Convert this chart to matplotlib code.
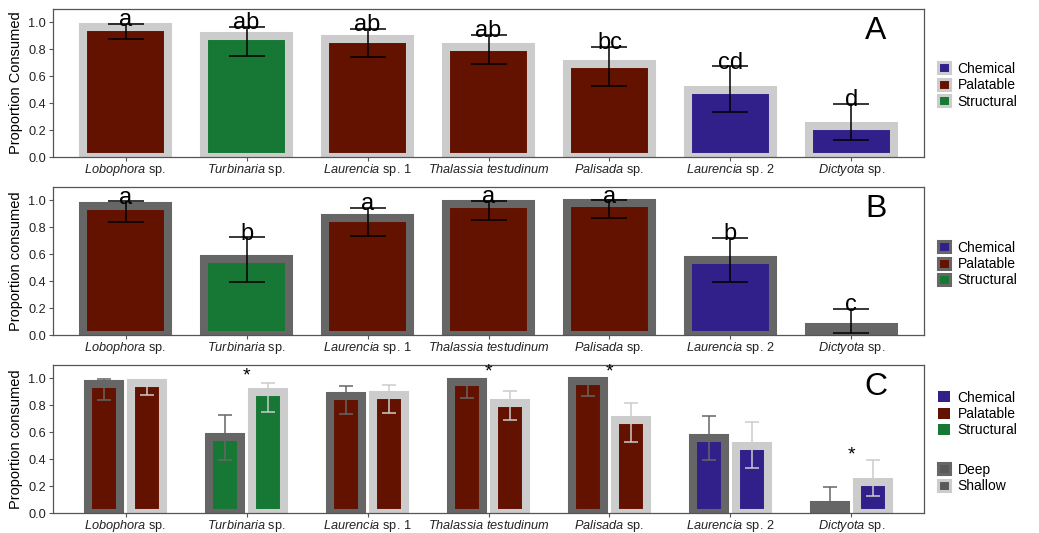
import matplotlib
matplotlib.use("Agg")
import matplotlib.pyplot as plt
from matplotlib.patches import Patch
import numpy as np

plt.rcParams['font.family'] = ['Liberation Sans', 'DejaVu Sans']
plt.rcParams['mathtext.fontset'] = 'custom'
plt.rcParams['mathtext.rm'] = 'Liberation Sans'
plt.rcParams['mathtext.it'] = 'Liberation Sans:italic'

species = [r'$\mathit{Lobophora}$ sp.', r'$\mathit{Turbinaria}$ sp.', r'$\mathit{Laurencia}$ sp. 1',
           r'$\mathit{Thalassia\ testudinum}$', r'$\mathit{Palisada}$ sp.', r'$\mathit{Laurencia}$ sp. 2',
           r'$\mathit{Dictyota}$ sp.']
traits = ['Palatable', 'Structural', 'Palatable', 'Palatable', 'Palatable', 'Chemical', 'Chemical']

shallow_mean = [0.965, 0.898, 0.880, 0.820, 0.690, 0.500, 0.232]
shallow_low = [0.876, 0.748, 0.740, 0.693, 0.527, 0.332, 0.126]
shallow_high = [0.990, 0.965, 0.950, 0.906, 0.820, 0.673, 0.396]
shallow_letters = ['a', 'ab', 'ab', 'ab', 'bc', 'cd', 'd']

deep_mean = [0.957, 0.565, 0.872, 0.975, 0.981, 0.560, 0.058]
deep_low = [0.841, 0.395, 0.735, 0.854, 0.869, 0.392, 0.015]
deep_high = [0.993, 0.725, 0.946, 0.998, 1.000, 0.720, 0.194]
deep_letters = ['a', 'b', 'a', 'a', 'a', 'b', 'c']

# significance marks between depths (None = not significant)
star_y = [None, 1.02, None, 1.045, 1.045, None, 0.43]

trait_colors = {'Chemical': '#31208a', 'Palatable': '#641200', 'Structural': '#167834'}
shallow_grey = '#cccccc'
deep_grey = '#666666'

W, H = 1039, 533
fig = plt.figure(figsize=(W / 100, H / 100), dpi=100)

x = np.arange(1, len(species) + 1)
bar_lw = 5.8


def style_axes(ax, ylabel):
    ax.set_xlim(0.4, 7.6)
    ax.set_ylim(0, 1.1)
    ax.set_yticks([0, 0.2, 0.4, 0.6, 0.8, 1.0])
    ax.set_yticklabels(['0.0', '0.2', '0.4', '0.6', '0.8', '1.0'])
    ax.set_xticks(x)
    ax.set_xticklabels(species)
    ax.tick_params(axis='both', length=3, width=0.8, color='#555555', labelsize=9.2,
                   labelcolor='#222222', pad=2)
    # baseline alignment keeps the all-italic label level with the others
    ax.tick_params(axis='x', labelsize=9.2, pad=8.5)
    for lab in ax.get_xticklabels():
        lab.set_verticalalignment('baseline')
    ax.set_ylabel(ylabel, fontsize=10.5, labelpad=4)
    for s in ax.spines.values():
        s.set_color('#555555')
        s.set_linewidth(0.9)


def trait_legend(ax, edge, y_center, with_edge=True):
    handles = [Patch(facecolor=trait_colors[t], edgecolor=edge if with_edge else 'none',
                     linewidth=2.2 if with_edge else 0, label=t)
               for t in ['Chemical', 'Palatable', 'Structural']]
    leg = ax.legend(handles=handles, loc='center left', bbox_to_anchor=(938 / W, 1 - y_center / H),
                    bbox_transform=fig.transFigure, frameon=False, fontsize=10, borderpad=0,
                    borderaxespad=0, handlelength=0.85, handleheight=0.85, handletextpad=0.55,
                    labelspacing=0.18)
    return leg


def single_panel(rect, mean, low, high, letters, grey, ylabel, tag):
    ax = fig.add_axes(rect)
    colors = [trait_colors[t] for t in traits]
    ax.bar(x, mean, width=0.7, color=colors, edgecolor=grey, linewidth=bar_lw, zorder=2)
    yerr = [np.array(mean) - np.array(low), np.array(high) - np.array(mean)]
    ax.errorbar(x, mean, yerr=yerr, fmt='none', ecolor='black', elinewidth=1.1,
                capsize=12.8, capthick=1.1, zorder=3)
    for xi, hi, lab in zip(x, high, letters):
        ax.text(xi, hi - 0.016, lab, ha='center', va='baseline', fontsize=17, zorder=4)
    ax.text(0.945, 0.85, tag, transform=ax.transAxes, ha='center', va='center', fontsize=23)
    style_axes(ax, ylabel)
    return ax


ax_w = 871 / W
ax_h = 148 / H
ax_a = single_panel([53 / W, 1 - 157 / H, ax_w, ax_h], shallow_mean, shallow_low, shallow_high,
                    shallow_letters, shallow_grey, 'Proportion Consumed', 'A')
trait_legend(ax_a, shallow_grey, 85)

ax_b = single_panel([53 / W, 1 - 335 / H, ax_w, ax_h], deep_mean, deep_low, deep_high,
                    deep_letters, deep_grey, 'Proportion consumed', 'B')
trait_legend(ax_b, deep_grey, 264)

# panel C: deep and shallow side by side
ax_c = fig.add_axes([53 / W, 1 - 513 / H, ax_w, ax_h])
colors = [trait_colors[t] for t in traits]
off, bw = 0.178, 0.26
for sign, mean, low, high, grey in [(-1, deep_mean, deep_low, deep_high, deep_grey),
                                    (1, shallow_mean, shallow_low, shallow_high, shallow_grey)]:
    xs = x + sign * off
    ax_c.bar(xs, mean, width=bw, color=colors, edgecolor=grey, linewidth=bar_lw, zorder=2)
    yerr = [np.array(mean) - np.array(low), np.array(high) - np.array(mean)]
    ax_c.errorbar(xs, mean, yerr=yerr, fmt='none', ecolor=grey, elinewidth=1.1,
                  capsize=5.2, capthick=1.1, zorder=3)
for xi, sy in zip(x, star_y):
    if sy is not None:
        ax_c.text(xi, sy, '*', ha='center', va='center', fontsize=14, zorder=4)
ax_c.text(0.945, 0.85, 'C', transform=ax_c.transAxes, ha='center', va='center', fontsize=23)
style_axes(ax_c, 'Proportion consumed')

leg_c = trait_legend(ax_c, None, 414, with_edge=False)
ax_c.add_artist(leg_c)
depth_handles = [Patch(facecolor='#595959', edgecolor=deep_grey, linewidth=2.2, label='Deep'),
                 Patch(facecolor='#595959', edgecolor=shallow_grey, linewidth=2.2, label='Shallow')]
ax_c.legend(handles=depth_handles, loc='center left', bbox_to_anchor=(938 / W, 1 - 478 / H),
            bbox_transform=fig.transFigure, frameon=False, fontsize=10, borderpad=0,
            borderaxespad=0, handlelength=0.85, handleheight=0.85, handletextpad=0.55,
            labelspacing=0.18)

fig.savefig('out.png', dpi=100)
